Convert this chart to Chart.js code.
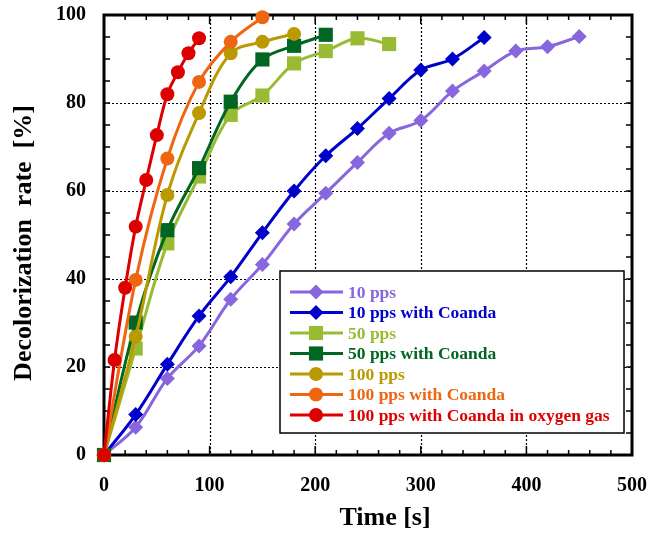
<!DOCTYPE html>
<html>
<head>
<meta charset="utf-8">
<script src="https://cdn.jsdelivr.net/npm/chart.js@4.4.0/dist/chart.umd.min.js"></script>
<style>
  html, body { margin: 0; padding: 0; background: #fff; }
</style>
</head>
<body>
<canvas id="chart" width="658" height="533"></canvas>
<script>
// time axis values [s] per series
const time10 = [0, 30, 60, 90, 120, 150, 180, 210, 240, 270, 300, 330, 360, 390, 420, 450];
const time10Coanda = [0, 30, 60, 90, 120, 150, 180, 210, 240, 270, 300, 330, 360];
const time50 = [0, 30, 60, 90, 120, 150, 180, 210, 240, 270];
const time50Coanda = [0, 30, 60, 90, 120, 150, 180, 210];
const time100 = [0, 30, 60, 90, 120, 150, 180];
const time100Coanda = [0, 30, 60, 90, 120, 150];
const timeOxygen = [0, 10, 20, 30, 40, 50, 60, 70, 80, 90];

// decolorization rate [%]
const rate10 = [0, 6.3, 17.4, 24.8, 35.4, 43.3, 52.5, 59.5, 66.5, 73.1, 76, 82.7, 87.3, 91.8, 92.8, 95.1];
const rate10Coanda = [0, 9.2, 20.6, 31.6, 40.5, 50.5, 60, 68, 74.2, 81, 87.5, 90, 94.9];
const rate50 = [0, 24.2, 48.1, 63.3, 77.3, 81.7, 89, 91.8, 94.7, 93.4];
const rate50Coanda = [0, 30.1, 51.1, 65.2, 80.3, 89.9, 93, 95.5];
const rate100 = [0, 26.9, 59.1, 77.7, 91.3, 93.9, 95.7];
const rate100Coanda = [0, 39.8, 67.4, 84.8, 93.9, 99.5];
const rateOxygen = [0, 21.6, 38, 51.9, 62.5, 72.7, 82, 87, 91.3, 94.7];

const xTicks = [0, 100, 200, 300, 400, 500];
const yTicks = [0, 20, 40, 60, 80, 100];

const seriesNames = ['10 pps', '10 pps with Coanda', '50 pps', '50 pps with Coanda',
  '100 pps', '100 pps with Coanda', '100 pps with Coanda in oxygen gas'];
const seriesColors = ['#8866DD', '#0000CC', '#99BB33', '#006622', '#BB9900', '#EE6611', '#DD0000'];
const seriesShapes = ['rectRot', 'rectRot', 'rect', 'rect', 'circle', 'circle', 'circle'];
const seriesTimes = [time10, time10Coanda, time50, time50Coanda, time100, time100Coanda, timeOxygen];
const seriesRates = [rate10, rate10Coanda, rate50, rate50Coanda, rate100, rate100Coanda, rateOxygen];

const xTitle = 'Time [s]';
const yTitle = 'Decolorization  rate  [%]';

const SERIF = '"Liberation Serif", "Times New Roman", serif';
const radiusFor = { rectRot: 7.5, rect: 10, circle: 7 };

const datasets = seriesNames.map((name, i) => ({
  label: name,
  data: seriesTimes[i].map((t, j) => ({ x: t, y: seriesRates[i][j] })),
  borderColor: seriesColors[i],
  backgroundColor: seriesColors[i],
  pointBackgroundColor: seriesColors[i],
  pointBorderColor: seriesColors[i],
  pointBorderWidth: 0,
  pointStyle: seriesShapes[i],
  pointRadius: radiusFor[seriesShapes[i]],
  borderWidth: 3,
  tension: 0.35,
  clip: false,
  order: seriesNames.length - i // later series drawn on top
}));

function drawMarker(ctx, shape, x, y, r) {
  ctx.beginPath();
  if (shape === 'circle') {
    ctx.arc(x, y, r, 0, Math.PI * 2);
  } else if (shape === 'rect') {
    const s = r * Math.SQRT1_2;
    ctx.rect(x - s, y - s, 2 * s, 2 * s);
  } else {
    ctx.moveTo(x, y - r);
    ctx.lineTo(x + r, y);
    ctx.lineTo(x, y + r);
    ctx.lineTo(x - r, y);
    ctx.closePath();
  }
  ctx.fill();
}

// keep the plot box fixed: no extra room for overhanging tick labels
function pinScale(s, size) {
  if (s.isHorizontal()) s.height = size; else s.width = size;
  s.paddingLeft = 0; s.paddingRight = 0; s.paddingTop = 0; s.paddingBottom = 0;
}

// frame, inward ticks, dotted grid and axis titles
const framePlugin = {
  id: 'frame',
  beforeDatasetsDraw(chart) {
    const { ctx, chartArea: a, scales: { x, y } } = chart;
    ctx.save();
    ctx.strokeStyle = '#000';

    ctx.lineWidth = 1.2;
    ctx.setLineDash([2, 2]);
    ctx.beginPath();
    xTicks.slice(1, -1).forEach(v => {
      const px = Math.round(x.getPixelForValue(v)) + 0.5;
      ctx.moveTo(px, a.top); ctx.lineTo(px, a.bottom);
    });
    yTicks.slice(1, -1).forEach(v => {
      const py = Math.round(y.getPixelForValue(v)) + 0.5;
      ctx.moveTo(a.left, py); ctx.lineTo(a.right, py);
    });
    ctx.stroke();
    ctx.setLineDash([]);

    ctx.lineWidth = 1.5;
    ctx.beginPath();
    for (let v = 20; v < 500; v += 20) {
      const px = x.getPixelForValue(v);
      const len = v % 100 === 0 ? 9 : 5;
      ctx.moveTo(px, a.bottom); ctx.lineTo(px, a.bottom - len);
      ctx.moveTo(px, a.top); ctx.lineTo(px, a.top + len);
    }
    for (let v = 5; v < 100; v += 5) {
      const py = y.getPixelForValue(v);
      ctx.moveTo(a.left, py); ctx.lineTo(a.left + 6, py);
      ctx.moveTo(a.right, py); ctx.lineTo(a.right - 6, py);
    }
    ctx.stroke();

    ctx.lineWidth = 3;
    ctx.strokeRect(a.left, a.top, a.right - a.left, a.bottom - a.top);

    ctx.fillStyle = '#000';
    ctx.font = 'bold 26px ' + SERIF;
    ctx.textAlign = 'center';
    ctx.textBaseline = 'middle';
    ctx.fillText(xTitle, 385, 518);
    ctx.translate(24, 243);
    ctx.rotate(-Math.PI / 2);
    ctx.fillText(yTitle, 0, 0);
    ctx.restore();
  }
};

// legend box inside the plot
const legendPlugin = {
  id: 'boxLegend',
  afterDatasetsDraw(chart) {
    const ctx = chart.ctx;
    const box = { left: 280, top: 271, right: 624, bottom: 433 };
    ctx.save();
    ctx.fillStyle = '#fff';
    ctx.fillRect(box.left, box.top, box.right - box.left, box.bottom - box.top);
    ctx.strokeStyle = '#000';
    ctx.lineWidth = 1.5;
    ctx.strokeRect(box.left, box.top, box.right - box.left, box.bottom - box.top);
    ctx.font = 'bold 17.5px ' + SERIF;
    ctx.textBaseline = 'middle';
    seriesNames.forEach((name, i) => {
      const cy = 292 + i * 20.5;
      ctx.strokeStyle = seriesColors[i];
      ctx.fillStyle = seriesColors[i];
      ctx.lineWidth = 3;
      ctx.beginPath();
      ctx.moveTo(290, cy); ctx.lineTo(343, cy);
      ctx.stroke();
      drawMarker(ctx, seriesShapes[i], 316, cy, radiusFor[seriesShapes[i]]);
      ctx.fillText(name, 348, cy + 1);
    });
    ctx.restore();
  }
};

const tickFont = { family: SERIF, size: 20, weight: 'bold' };

new Chart(document.getElementById('chart'), {
  type: 'line',
  data: { datasets },
  options: {
    responsive: false,
    animation: false,
    layout: { padding: { top: 15, right: 26, left: 0, bottom: 0 } },
    plugins: { legend: { display: false }, tooltip: { enabled: false } },
    scales: {
      x: {
        type: 'linear', min: 0, max: 500,
        afterBuildTicks: s => { s.ticks = xTicks.map(v => ({ value: v })); },
        afterFit: s => pinScale(s, 78),
        grid: { display: false, drawTicks: false },
        border: { display: false },
        ticks: { font: tickFont, color: '#000', padding: 19, maxRotation: 0 }
      },
      y: {
        min: 0, max: 100,
        afterBuildTicks: s => { s.ticks = yTicks.map(v => ({ value: v })); },
        afterFit: s => pinScale(s, 104),
        grid: { display: false, drawTicks: false },
        border: { display: false },
        ticks: { font: tickFont, color: '#000', padding: 18 }
      }
    }
  },
  plugins: [framePlugin, legendPlugin]
});
</script>
</body>
</html>
